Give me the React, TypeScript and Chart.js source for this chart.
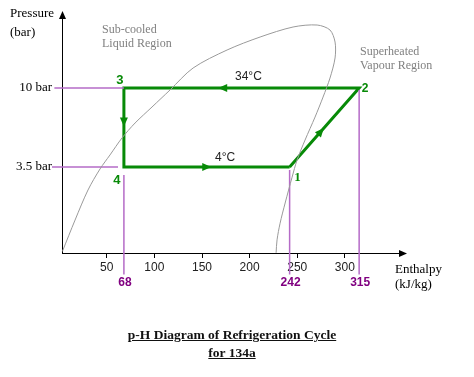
import React, { useEffect, useRef } from "react";
import { Chart, registerables } from "chart.js";

Chart.register(...registerables);

// ---- data ----
const enthalpyTicks = [50, 100, 150, 200, 250, 300];
const pressureTicks = [3.5, 10];

// cycle states 1 -> 2 -> 3 -> 4 -> 1  (kJ/kg, bar)
const cycleLabels = ["1", "2", "3", "4"];
const cycleH = [242, 315, 68, 68, 242];
const cycleP = [3.5, 10, 10, 3.5, 3.5];

// saturation dome
const domeH = [3.4, 16.7, 30.3, 42.9, 53.4, 66.0, 79.7, 97.5, 116.4, 140.6, 176.3, 211.0, 245.6, 270.9, 284.4, 289.7, 289.7, 284.4, 277.1, 268.7, 258.2, 249.8, 244.6, 237.3, 232.0, 228.8, 227.8];
const domeP = [1.14, 1.73, 2.58, 3.41, 4.11, 5.15, 6.28, 7.77, 9.74, 13.04, 16.57, 19.69, 22.49, 23.09, 21.61, 18.42, 14.9, 11.42, 8.87, 6.8, 5.01, 3.84, 3.06, 2.17, 1.66, 1.33, 1.12];

// marked enthalpies
const markerH = [68, 242, 315];
const markerTop = [3.15, 3.37, 9.74];
const markerBottom = 0.84;

// pressure guide lines: [fromH, toH, p]
const guideFromH = [-5, -7.5];
const guideToH = [68, 61.8];
const guideP = [10, 3.5];

// arrows on cycle: segment index and fraction along it
const arrowSeg = [0, 1, 2, 3];
const arrowT = [0.45, 0.58, 0.43, 0.5];

const GREEN = "#078a07";
const PURPLE_LINE = "#b56bc7";
const PURPLE_TEXT = "#800080";
const SERIF = "'Liberation Serif', 'Times New Roman', serif";
const SANS = "'Liberation Sans', Arial, sans-serif";

function arrowHead(ctx: CanvasRenderingContext2D, x: number, y: number, ang: number, len: number, half: number, color: string) {
  ctx.save();
  ctx.translate(x, y);
  ctx.rotate(ang);
  ctx.beginPath();
  ctx.moveTo(len / 2, 0);
  ctx.lineTo(-len / 2, -half);
  ctx.lineTo(-len / 2, half);
  ctx.closePath();
  ctx.fillStyle = color;
  ctx.fill();
  ctx.restore();
}

const decorPlugin = {
  id: "decor",
  afterDatasetsDraw(chart: any) {
    const ctx: CanvasRenderingContext2D = chart.ctx;
    const xs = chart.scales.x;
    const ys = chart.scales.y;
    const ca = chart.chartArea;
    ctx.save();

    // axis arrows
    arrowHead(ctx, ca.left + 0.5, ca.top - 3, -Math.PI / 2, 8, 3.5, "#000");
    arrowHead(ctx, ca.right + 1, ca.bottom + 0.5, 0, 8, 3.5, "#000");

    // cycle arrows
    const px = cycleH.map((h) => xs.getPixelForValue(h));
    const py = cycleP.map((p) => ys.getPixelForValue(p));
    arrowSeg.forEach((s, i) => {
      const t = arrowT[i];
      const x = px[s] + (px[s + 1] - px[s]) * t;
      const y = py[s] + (py[s + 1] - py[s]) * t;
      const ang = Math.atan2(py[s + 1] - py[s], px[s + 1] - px[s]);
      arrowHead(ctx, x, y, ang, 9, 4, GREEN);
    });

    ctx.textBaseline = "middle";
    // axis titles
    ctx.fillStyle = "#000";
    ctx.font = `13px ${SERIF}`;
    ctx.textAlign = "left";
    ctx.fillText("Pressure", 10, 14);
    ctx.fillText("(bar)", 10, 33);
    ctx.fillText("Enthalpy", 395, 270);
    ctx.fillText("(kJ/kg)", 395, 285);

    // region labels
    ctx.fillStyle = "#808080";
    ctx.font = `12px ${SERIF}`;
    ctx.fillText("Sub-cooled", 102, 30);
    ctx.fillText("Liquid Region", 102, 44);
    ctx.fillText("Superheated", 360, 52);
    ctx.fillText("Vapour Region", 360, 66);

    // temperatures
    ctx.fillStyle = "#222";
    ctx.font = `12px ${SANS}`;
    ctx.fillText("34\u00b0C", 235, 77);
    ctx.fillText("4\u00b0C", 215, 158);

    // state numbers
    ctx.fillStyle = GREEN;
    ctx.textAlign = "center";
    ctx.font = `bold 13px ${SANS}`;
    ctx.fillText(cycleLabels[2], px[2] - 4, py[2] - 8);
    ctx.font = `bold 12px ${SANS}`;
    ctx.fillText(cycleLabels[1], px[1] + 6, py[1] + 1);
    ctx.font = `bold 13px ${SANS}`;
    ctx.fillText(cycleLabels[3], px[3] - 7, py[3] + 13);
    ctx.font = `bold 13px ${SERIF}`;
    ctx.fillText(cycleLabels[0], px[0] + 8, py[0] + 11);

    // marker values
    ctx.fillStyle = PURPLE_TEXT;
    ctx.font = `bold 12px ${SANS}`;
    markerH.forEach((h) => {
      ctx.fillText(String(h), xs.getPixelForValue(h) + 1, 283);
    });
    ctx.restore();
  },
};

export default function App() {
  const ref = useRef<HTMLCanvasElement>(null);
  useEffect(() => {
    if (!ref.current) return;
    const datasets: any[] = [];
    datasets.push({
      data: domeH.map((h, i) => ({ x: h, y: domeP[i] })),
      borderColor: "#9a9a9a",
      borderWidth: 1,
      tension: 0.3,
      pointRadius: 0,
      clip: false,
    });
    guideP.forEach((p, i) => {
      datasets.push({
        data: [{ x: guideFromH[i], y: p }, { x: guideToH[i], y: p }],
        borderColor: PURPLE_LINE,
        borderWidth: 1.5,
        pointRadius: 0,
        clip: false,
      });
    });
    markerH.forEach((h, i) => {
      datasets.push({
        data: [{ x: h, y: markerTop[i] }, { x: h, y: markerBottom }],
        borderColor: PURPLE_LINE,
        borderWidth: 1.5,
        pointRadius: 0,
        clip: false,
      });
    });
    datasets.push({
      data: cycleH.map((h, i) => ({ x: h, y: cycleP[i] })),
      borderColor: GREEN,
      borderWidth: 3,
      pointRadius: 0,
      borderJoinStyle: "miter",
      clip: false,
    });

    const chart = new Chart(ref.current, {
      type: "line",
      data: { datasets },
      plugins: [decorPlugin],
      options: {
        animation: false,
        responsive: false,
        devicePixelRatio: 1,
        layout: { padding: { left: 0, top: 18, right: 72, bottom: 0 } },
        plugins: { legend: { display: false }, tooltip: { enabled: false }, title: { display: false } },
        scales: {
          x: {
            type: "linear",
            min: 3,
            max: 360,
            afterBuildTicks: (axis: any) => {
              axis.ticks = enthalpyTicks.map((v) => ({ value: v }));
            },
            afterFit: (axis: any) => {
              axis.height = 124;
            },
            grid: { display: true, drawOnChartArea: false, drawTicks: true, tickLength: 5, color: "#000" },
            border: { display: true, color: "#000", width: 1 },
            ticks: { color: "#222", font: { family: SANS, size: 12 }, padding: 2, maxRotation: 0, autoSkip: false },
          },
          y: {
            type: "logarithmic",
            min: 1.117,
            max: 25.35,
            afterBuildTicks: (axis: any) => {
              axis.ticks = pressureTicks.map((v) => ({ value: v }));
            },
            afterFit: (axis: any) => {
              axis.width = 62;
            },
            grid: { display: false, drawTicks: false, tickLength: 0 },
            border: { display: true, color: "#000", width: 1 },
            ticks: {
              color: "#000",
              font: { family: SERIF, size: 13 },
              padding: 10,
              autoSkip: false,
              callback: (v: any) => `${v} bar`,
            },
          },
        },
      } as any,
    });
    return () => chart.destroy();
  }, []);

  return (
    <div style={{ position: "absolute", left: 0, top: 0, width: 474, height: 377, background: "#fff" }}>
      <canvas ref={ref} width={474} height={377} style={{ position: "absolute", left: 0, top: 0 }} />
      <div
        style={{
          position: "absolute",
          left: 0,
          width: 464,
          top: 326,
          textAlign: "center",
          fontFamily: SERIF,
          fontWeight: "bold",
          fontSize: 13.5,
          lineHeight: "18px",
          textDecoration: "underline",
          color: "#111",
        }}
      >
        p-H Diagram of Refrigeration Cycle
        <br />
        for 134a
      </div>
    </div>
  );
}
